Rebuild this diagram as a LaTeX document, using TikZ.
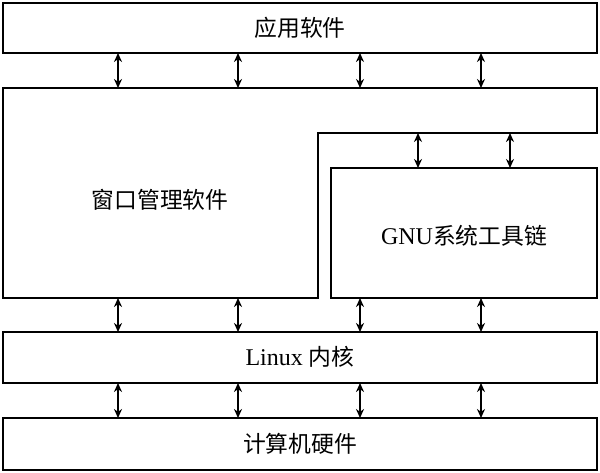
\documentclass[tikz,border=0pt]{standalone}
\usetikzlibrary{arrows.meta}
\usepackage{fontspec}
\setmainfont{Liberation Serif}
\newfontfamily\cjk{Noto Sans CJK SC}[Scale=0.95]
\begin{document}
\begin{tikzpicture}[x=1pt,y=-1pt,
  bx/.style={draw,line width=2pt},
  lbl/.style={font=\fontsize{24}{28}\selectfont},
  ar/.style={<->,>={Stealth[length=9pt,width=8pt]},line width=2pt}]
\useasboundingbox (0,0) rectangle (600,473);
\draw[bx] (3,3) rectangle (597,53);
\node[lbl] (app) at (300,28) {\cjk 应用软件};
\draw[bx] (3,88) -- (597,88) -- (597,133) -- (318,133) -- (318,298) -- (3,298) -- cycle;
\node[lbl] (win) at (160,200) {\cjk 窗口管理软件};
\draw[bx] (331,168) rectangle (597,298);
\node[lbl] (gnu) at (464,236) {GNU{\cjk 系统工具链}};
\draw[bx] (3,332) rectangle (597,383);
\node[lbl] (lin) at (300,357) {Linux {\cjk 内核}};
\draw[bx] (3,418) rectangle (597,470);
\node[lbl] (hw) at (300,444) {\cjk 计算机硬件};
\foreach \x in {118,238,360,481}{
  \coordinate (a\x) at (\x,53); \coordinate (b\x) at (\x,88);
  \draw[ar] (a\x) -- (b\x);
  \coordinate (c\x) at (\x,298); \coordinate (d\x) at (\x,332);
  \draw[ar] (c\x) -- (d\x);
  \coordinate (e\x) at (\x,383); \coordinate (f\x) at (\x,418);
  \draw[ar] (e\x) -- (f\x);}
\foreach \x in {418,510}{
  \coordinate (g\x) at (\x,133); \coordinate (h\x) at (\x,168);
  \draw[ar] (g\x) -- (h\x);}
\end{tikzpicture}
\end{document}
